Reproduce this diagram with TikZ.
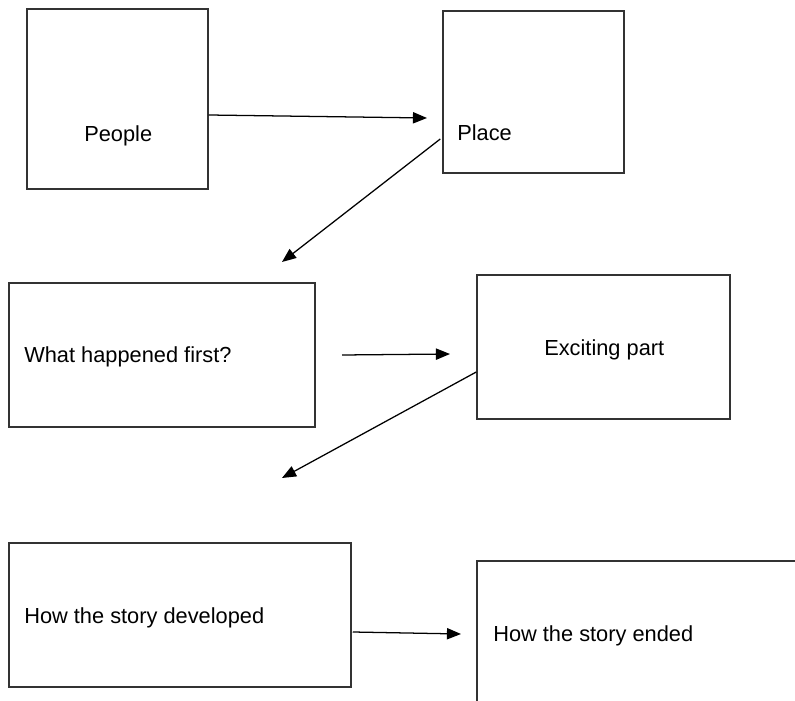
\documentclass[tikz,border=0pt]{standalone}
\usepackage{fontspec}
\setmainfont{Liberation Sans}
\usetikzlibrary{arrows.meta,calc}

\begin{document}
\begin{tikzpicture}[x=0.025cm,y=-0.025cm,
	box/.style={draw=black!80,line width=1pt,inner sep=0pt},
	txt/.style={anchor=base west,inner sep=0pt,font=\fontsize{15.5}{18}\selectfont},
	arrow/.style={-{Triangle[length=10pt,width=8pt]},line width=0.9pt}]
	\clip (0,0) rectangle (795,701);
	\node[box,minimum width=4.525cm,minimum height=4.5cm] (people) at (117.5,99) {};
	\node[box,minimum width=4.525cm,minimum height=4.05cm] (place) at (533.5,92) {};
	\node[box,minimum width=7.65cm,minimum height=3.6cm] (first) at (162,355) {};
	\node[box,minimum width=6.325cm,minimum height=3.6cm] (exciting) at (603.5,347) {};
	\node[box,minimum width=8.55cm,minimum height=3.6cm] (developed) at (180,615) {};
	\node[box,minimum width=8.5cm,minimum height=4.25cm] (ended) at (647,646) {};
	\node[txt] (peopletxt) at (84,142) {People};
	\node[txt] (placetxt) at (457,141) {Place};
	\node[txt] (firsttxt) at (24,363) {What happened first?};
	\node[txt] (excitingtxt) at (544,356) {Exciting part};
	\node[txt] (developedtxt) at (24,623) {How the story developed};
	\node[txt] (endedtxt) at (493,641) {How the story ended};
	\coordinate (placein) at (427,118);
	\coordinate (firstin) at (282,262);
	\coordinate (firstout) at (342,355);
	\coordinate (excitingin) at (450,354);
	\coordinate (developedin) at (282,478);
	\coordinate (endedin) at (461,634);
	\draw[arrow] ($(people.east)+(0,16)$) -- (placein);
	\draw[arrow] ($(place.west)+(-2,47)$) -- (firstin);
	\draw[arrow] (firstout) -- (excitingin);
	\draw[arrow] ($(exciting.west)+(0,25)$) -- (developedin);
	\draw[arrow] ($(developed.east)+(1,17)$) -- (endedin);
\end{tikzpicture}
\end{document}
